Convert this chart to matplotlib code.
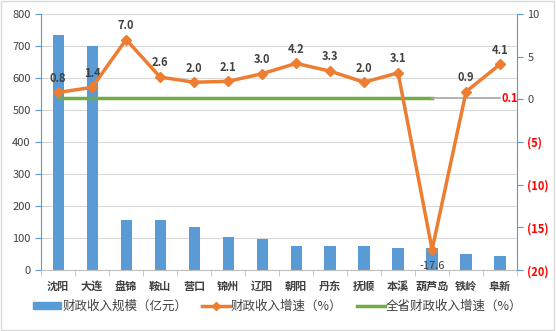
import matplotlib
matplotlib.use("Agg")
import matplotlib.pyplot as plt
from matplotlib.ticker import FuncFormatter
from matplotlib.lines import Line2D
from matplotlib.patches import Patch

plt.rcParams['font.family'] = ['Noto Sans CJK SC', 'DejaVu Sans']

# data
cities = ["沈阳", "大连", "盘锦", "鞍山", "营口", "锦州", "辽阳",
          "朝阳", "丹东", "抚顺", "本溪", "葫芦岛", "铁岭", "阜新"]
revenue = [735, 700, 157, 157, 135, 104, 98, 76, 76, 76, 70, 70, 51, 45]
growth = [0.8, 1.4, 7.0, 2.6, 2.0, 2.1, 3.0, 4.2, 3.3, 2.0, 3.1, -17.6, 0.9, 4.1]
province_growth = 0.1
province_until = 11   # green line runs to 葫芦岛, grey after that

blue = "#5B9BD5"
orange = "#ED7D31"
green = "#70AD47"
txt = "#404040"

fig = plt.figure(figsize=(5.56, 3.31), dpi=100)
ax = fig.add_axes([0.074, 0.184, 0.856, 0.774])
ax2 = ax.twinx()

x = list(range(len(cities)))
ax.bar(x, revenue, width=0.33, color=blue, zorder=2)
ax.set_ylim(0, 800)
ax.set_yticks(range(0, 801, 100))
ax.set_xlim(-0.5, len(cities) - 0.5)
ax.grid(axis="y", color="#D9D9D9", lw=0.8, zorder=0)
ax.set_axisbelow(True)

ax.set_xticks(x)
ax.set_xticklabels(cities, fontsize=8, color=txt, fontweight="bold")
ax.set_xticks([i + 0.5 for i in range(-1, len(cities))], minor=True)
ax.tick_params(axis="x", which="major", length=0, pad=7)
ax.tick_params(axis="x", which="minor", length=4, color="#BFBFBF")
ax.tick_params(axis="y", labelsize=8, labelcolor=txt, color=blue, length=4)

for s in ["top", "right"]:
    ax.spines[s].set_visible(False)
    ax2.spines[s].set_visible(False)
ax.spines["left"].set_color(blue)
ax.spines["bottom"].set_color("#BFBFBF")
ax2.spines["left"].set_visible(False)
ax2.spines["bottom"].set_visible(False)
ax2.spines["right"].set_visible(True)
ax2.spines["right"].set_color(blue)

# growth lines on right axis
ax2.set_ylim(-20, 10)
ax2.set_yticks(range(-20, 11, 5))
ax2.yaxis.set_major_formatter(FuncFormatter(
    lambda v, p: "(%d)" % abs(v) if v < 0 else "%d" % v))
ax2.tick_params(axis="y", labelsize=8, labelcolor=txt, color=blue, length=4)
for lab, v in zip(ax2.get_yticklabels(), range(-20, 11, 5)):
    if v < 0:
        lab.set_color("red")
        lab.set_fontweight("bold")

ax2.plot(x[:province_until + 1], [province_growth] * (province_until + 1),
         color=green, lw=2.5, zorder=3)
ax2.plot(x[province_until:], [province_growth] * (len(x) - province_until),
         color="#A6A6A6", lw=1.2, zorder=3)
ax2.plot(x, growth, color=orange, lw=2.5, marker="D", markersize=5, zorder=4)

for xi, g in zip(x, growth):
    if g < 0:
        ax2.text(xi, g - 1.3, "%.1f" % g, ha="center", va="top",
                 fontsize=8, color=txt)
    else:
        ax2.text(xi, g + 0.9, "%.1f" % g, ha="center", va="bottom",
                 fontsize=8, color=txt, fontweight="bold")
ax2.text(x[-1] + 0.05, province_growth, "0.1", ha="left", va="center",
         fontsize=8, color="red", fontweight="bold")

handles = [
    Patch(color=blue),
    Line2D([], [], color=orange, lw=2.5, marker="D", markersize=4),
    Line2D([], [], color=green, lw=2.5),
]
labels = ["财政收入规模（亿元）", "财政收入增速（%）", "全省财政收入增速（%）"]
fig.legend(handles, labels, loc="lower center", bbox_to_anchor=(0.5, 0.02),
           ncol=3, frameon=False, fontsize=9, handlelength=2.2,
           handleheight=0.5, columnspacing=1.2, handletextpad=0.1,
           labelcolor=txt)

fig.patches.append(plt.Rectangle((0.002, 0.003), 0.995, 0.994,
                                 transform=fig.transFigure, fill=False,
                                 edgecolor="#D9D9D9", lw=1))

fig.savefig("out.png", dpi=100)
